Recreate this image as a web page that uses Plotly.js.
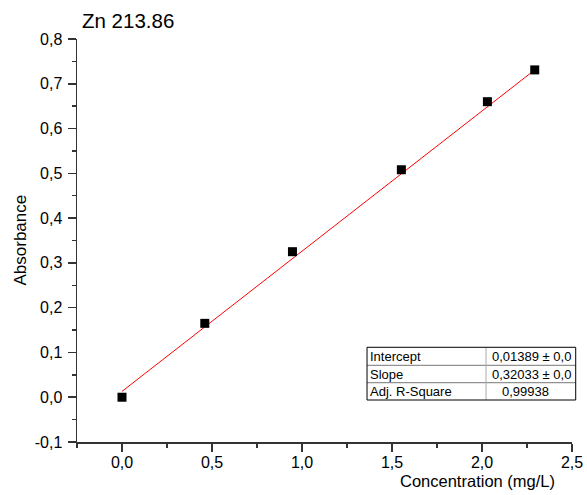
<!DOCTYPE html>
<html>
<head>
<meta charset="utf-8">
<script src="https://cdn.plot.ly/plotly-3.0.1.min.js"></script>
<style>
html,body{margin:0;padding:0;background:#fff;}
#chart{width:587px;height:495px;}
</style>
</head>
<body>
<div id="chart"></div>
<script>
// Data
var concentration = [0, 0.46, 0.947, 1.552, 2.03, 2.293];
var absorbance = [0.0, 0.165, 0.325, 0.508, 0.660, 0.731];
var fitX = [0, 2.293];
var fitY = [0.013, 0.731];
var yTickVals = [-0.1, 0, 0.1, 0.2, 0.3, 0.4, 0.5, 0.6, 0.7, 0.8];
var yTickText = ["-0,1", "0,0", "0,1", "0,2", "0,3", "0,4", "0,5", "0,6", "0,7", "0,8"];
var xTickVals = [0, 0.5, 1.0, 1.5, 2.0, 2.5];
var xTickText = ["0,0", "0,5", "1,0", "1,5", "2,0", "2,5"];
var tableLabels = ["Intercept", "Slope", "Adj. R-Square"];
var tableValues = ["0,01389 ± 0,0", "0,32033 ± 0,0", "0,99938"];

var FONT = "Liberation Sans, Arial, sans-serif";

var traces = [
  {x: fitX, y: fitY, mode: "lines", type: "scatter",
   line: {color: "#ff0000", width: 1}, hoverinfo: "skip", showlegend: false},
  {x: concentration, y: absorbance, mode: "markers", type: "scatter",
   marker: {symbol: "square", size: 9, color: "#000000"}, showlegend: false}
];

// table geometry (paper coords)
var tx0 = 0.5859, tx1 = 0.8263, tx2 = 1.0075;
var ty = [0.235, 0.1903, 0.1471, 0.1042];
var shapes = [
  {type: "line", xref: "paper", yref: "paper", x0: tx0, x1: tx2, y0: ty[1], y1: ty[1], line: {color: "#777", width: 1}},
  {type: "line", xref: "paper", yref: "paper", x0: tx0, x1: tx2, y0: ty[2], y1: ty[2], line: {color: "#777", width: 1}},
  {type: "line", xref: "paper", yref: "paper", x0: tx1, x1: tx1, y0: ty[0], y1: ty[3], line: {color: "#aaa", width: 1}},
  {type: "rect", xref: "paper", yref: "paper", x0: tx0, x1: tx2, y0: ty[3], y1: ty[0], line: {color: "#000", width: 1}, fillcolor: "rgba(0,0,0,0)"}
];

var annotations = [
  {text: "Absorbance", xref: "paper", yref: "paper", x: -57/495, y: 0.5, textangle: -90,
   showarrow: false, xanchor: "center", yanchor: "middle", font: {family: FONT, size: 17, color: "#000"}},
  {text: "Concentration (mg/L)", xref: "paper", yref: "paper", x: (557-77)/495, y: -(481-442)/403,
   showarrow: false, xanchor: "right", yanchor: "middle", font: {family: FONT, size: 16.5, color: "#000"}}
];
for (var i = 0; i < 3; i++) {
  var yc = (ty[i] + ty[i+1]) / 2;
  annotations.push({text: tableLabels[i], xref: "paper", yref: "paper", x: tx0 + 0.002, y: yc,
    showarrow: false, xanchor: "left", yanchor: "middle", font: {family: FONT, size: 13, color: "#000"}});
  annotations.push({text: tableValues[i], xref: "paper", yref: "paper",
    x: i < 2 ? tx2 - 0.006 : (525-77)/495, y: yc,
    showarrow: false, xanchor: i < 2 ? "right" : "center", yanchor: "middle", font: {family: FONT, size: 13, color: "#000"}});
}

var layout = {
  width: 587, height: 495,
  margin: {l: 77, r: 15, t: 39, b: 53, pad: 0},
  paper_bgcolor: "#fff", plot_bgcolor: "#fff",
  font: {family: FONT, color: "#000"},
  title: {text: "Zn 213.86", xref: "container", yref: "container", x: 82/587, xanchor: "left",
          y: 1 - 21/495, yanchor: "middle", font: {family: FONT, size: 20.5, color: "#000"}},
  xaxis: {range: [-0.25, 2.5], tickmode: "array", tickvals: xTickVals, ticktext: xTickText,
          showline: true, linecolor: "#333", linewidth: 1.5, mirror: false,
          showgrid: false, zeroline: false,
          ticks: "outside", ticklen: 8, tickwidth: 1.5, tickcolor: "#333",
          ticklabelstandoff: -3,
          minor: {ticks: "outside", ticklen: 4, tickwidth: 1.5, tickcolor: "#333", dtick: 0.25, tick0: 0, showgrid: false},
          tickfont: {family: FONT, size: 16, color: "#000"}},
  yaxis: {range: [-0.1, 0.8], tickmode: "array", tickvals: yTickVals, ticktext: yTickText,
          showline: true, linecolor: "#333", linewidth: 1.5, mirror: false,
          showgrid: false, zeroline: false,
          ticks: "outside", ticklen: 8, tickwidth: 1.5, tickcolor: "#333",
          ticklabelstandoff: 2,
          minor: {ticks: "outside", ticklen: 4, tickwidth: 1.5, tickcolor: "#333", dtick: 0.05, tick0: 0, showgrid: false},
          tickfont: {family: FONT, size: 16, color: "#000"}},
  shapes: shapes,
  annotations: annotations,
  showlegend: false
};

Plotly.newPlot("chart", traces, layout, {displayModeBar: false, staticPlot: true});
</script>
</body>
</html>
